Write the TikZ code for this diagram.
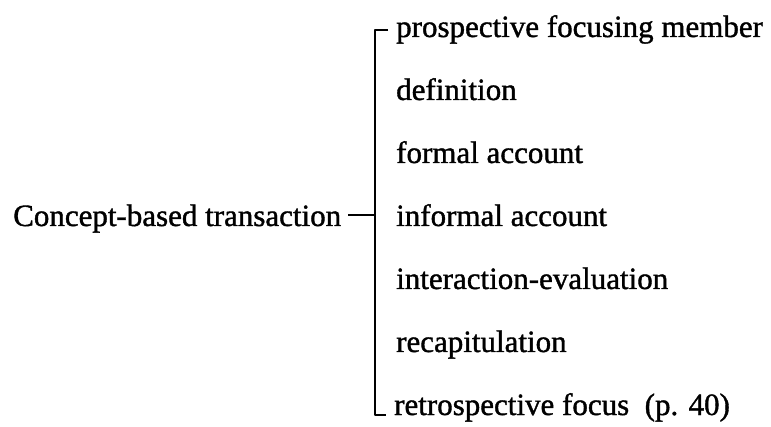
\documentclass[tikz,border=0pt]{standalone}
\usepackage{fontspec}
\setmainfont{Liberation Serif}[FakeBold=1.2]
\newfontfamily\thk{Liberation Serif}[FakeBold=1.2]
\begin{document}
\begin{tikzpicture}[x=1pt,y=-1pt,
  lbl/.style={font=\thk\fontsize{31}{36}\selectfont, inner sep=0pt, anchor=base west},
  brk/.style={line width=2pt, line join=round}]
\useasboundingbox (0,0) rectangle (771,427);
\node[lbl] (root) at (13,226) {Concept-based transaction};
\node[lbl] (i1) at (396,37) {prospective focusing member};
\node[lbl] (i2) at (396,100) {definition};
\node[lbl] (i3) at (396,163) {formal account};
\node[lbl] (i4) at (396,226) {informal account};
\node[lbl] (i5) at (396,289) {interaction-evaluation};
\node[lbl] (i6) at (396,352) {recapitulation};
\node[lbl] (i7) at (394,415) {retrospective focus~ (p. 40)};
\coordinate (bar) at (375,0);
\coordinate (t1) at ([xshift=-8pt,yshift=7pt]i1.base west);
\coordinate (t7) at ([xshift=-8pt]i7.base west);
\draw[brk] (t1) -- (t1 -| bar) -- (t7 -| bar) -- (t7);
\coordinate (r) at ([xshift=7pt,yshift=11pt]root.base east);
\draw[brk] (r) -- (r -| bar);
\end{tikzpicture}
\end{document}
